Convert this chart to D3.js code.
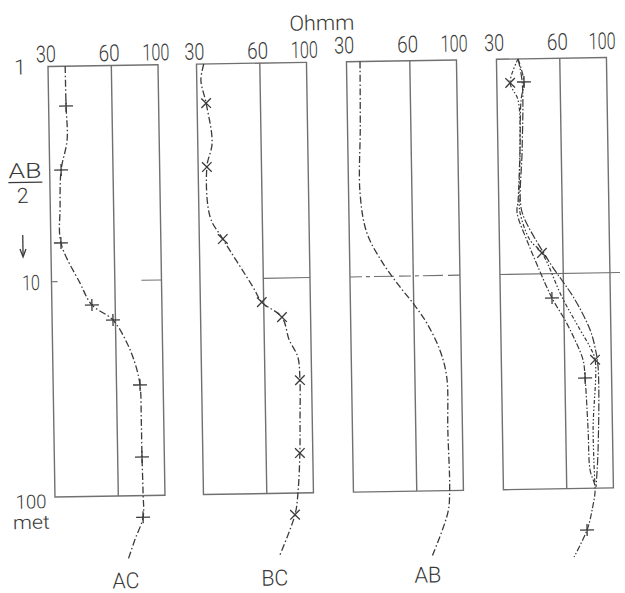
<!DOCTYPE html>
<html><head><meta charset="utf-8">
<script src="https://cdn.jsdelivr.net/npm/d3@7"></script>
<style>html,body{margin:0;padding:0;background:#fff;} svg{display:block}</style>
</head><body>
<svg id="chart" width="625" height="593"></svg>
<script>
// ---------- data ----------
const depthTicks = [1, 10, 100];
const depthTickLabels = ["1", "10", "100"];
const rhoTicks = [30, 60, 100];
const rhoTickLabels = ["30", "60", "100"];
const unitLabel = "Ohmm";
const depthUnit = "met";
const curveLabels = ["AC", "BC", "AB"];

// Panel 1 : AC
const acAB2 = [1.0, 1.53, 2.2, 3.03, 4.5, 6.61, 10.2, 12.9, 15.2, 19.5, 24.2, 30.6, 45, 66.2, 97, 126, 160, 199];
const acRho = [36.2, 36.3, 36.5, 34.0, 33.4, 33.5, 41.0, 46.5, 58.4, 67.8, 73.7, 77.6, 78.2, 78.3, 78.7, 78.4, 71.4, 65.9];
const acMarkAB2 = [1.53, 3.03, 6.61, 12.9, 15.2, 30.6, 66.2, 126];
const acMarkRho = [36.3, 34.0, 33.5, 46.5, 58.4, 77.6, 78.3, 78.4];

// Panel 2 : BC
const bcAB2 = [1.0, 1.19, 1.52, 2.33, 3.01, 5.14, 6.52, 10.95, 12.9, 15.2, 19.4, 23.3, 29.9, 45, 65.2, 100, 126, 194];
const bcRho = [32.5, 31.4, 33.1, 35.1, 33.0, 33.9, 38.8, 53.5, 58.8, 73.1, 78.8, 86.3, 88.0, 87.5, 86.8, 84.4, 81.4, 68.4];
const bcMarkAB2 = [1.52, 3.01, 6.52, 12.9, 15.2, 29.9, 65.2, 126];
const bcMarkRho = [33.1, 33.0, 38.8, 58.8, 73.1, 88.0, 86.8, 81.4];

// Panel 3 : AB
const abAB2 = [1.0, 2.0, 4.08, 6.27, 8.67, 11.2, 13.7, 16.6, 22.2, 29.7, 52.3, 99.5, 126, 203];
const abRho = [34.8, 34.5, 34.0, 36.4, 43.1, 51.7, 60.6, 69.0, 79.2, 85.0, 85.2, 86.0, 84.1, 69.9];

// Panel 4 : combined curves
const p4aAB2 = [1.0, 1.28, 1.55, 2.65, 4.52, 5.19, 7.17, 9.3, 12.98, 16.5, 20.4, 25.3, 30.7, 53.6, 82.2, 98.7, 126, 156, 208];
const p4aRho = [38.0, 40.4, 39.0, 38.2, 37.1, 36.6, 41.0, 45.6, 52.8, 60.7, 67.4, 73.4, 74.8, 76.6, 77.7, 81.8, 78.9, 74.4, 64.2];
const p4aMarkAB2 = [1.28, 12.98, 30.7, 156];
const p4aMarkRho = [40.4, 52.8, 74.8, 74.4];

const p4bAB2 = [1.0, 1.29, 1.55, 2.65, 4.52, 5.19, 6.95, 8.0, 12.9, 18.3, 22.1, 25.3, 53.6, 98.7];
const p4bRho = [38.0, 34.7, 37.7, 38.2, 37.5, 37.8, 41.9, 47.7, 59.0, 71.4, 79.4, 83.7, 80.9, 81.8];
const p4bMarkAB2 = [1.29, 8.0, 25.3];
const p4bMarkRho = [34.7, 47.7, 83.7];

const p4cAB2 = [1.0, 1.28, 2.65, 4.52, 5.31, 8.63, 13.3, 18.4, 22.1, 27.4, 66.5, 98.7];
const p4cRho = [38.0, 39.6, 39.1, 38.0, 39.0, 50.9, 68.0, 79.7, 83.8, 86.4, 85.1, 82.7];

// ---------- layout ----------
const panelLeft = [51.5, 200, 350, 500];
const panelW = 110;
const topY = 62, bottomY = 492.5;
const ink = "#3a3a3a", frame = "#707070";
const font = "Roboto, 'Liberation Sans', sans-serif";

const svg = d3.select("#chart");
svg.append("rect").attr("width", 625).attr("height", 593).attr("fill", "#fff");
const g = svg.append("g").attr("transform", "rotate(-0.93 330 280)");

const y = d3.scaleLog().domain([1, 100]).range([topY, bottomY]);
const xs = panelLeft.map(L => d3.scaleLog().domain([30, 100]).range([L, L + panelW]));

const zip = (a, b) => a.map((d, i) => ({ d: d, r: b[i] }));

function text(sel, str, x, yy, size, len, anchor) {
  const t = sel.append("text").attr("x", x).attr("y", yy).text(str)
    .attr("font-family", font).attr("font-size", size).attr("font-weight", 300)
    .attr("fill", ink).attr("text-anchor", anchor || "middle");
  if (len) t.attr("textLength", len).attr("lengthAdjust", "spacingAndGlyphs");
  return t;
}

const tickLen = { "30": 20, "60": 21, "100": 27 };
const labelBase = [57.5, 57.5, 53.5, 53.5];
const midDash = ["6,84,22", "0,63,60", "12,4,4,4,20,5", null];

xs.forEach((x, i) => {
  const p = g.append("g");
  const L = x(30), R = x(100);
  p.append("path")
    .attr("d", `M${L},${y(1)}H${R}V${y(100)}H${L}Z`)
    .attr("fill", "none").attr("stroke", frame).attr("stroke-width", 1.4);
  p.append("line").attr("x1", x(60)).attr("x2", x(60)).attr("y1", y(1)).attr("y2", y(100))
    .attr("stroke", frame).attr("stroke-width", 1.4);
  const hl = p.append("line").attr("x1", L).attr("x2", i === 3 ? R + 10 : R)
    .attr("y1", y(10)).attr("y2", y(10))
    .attr("stroke", frame).attr("stroke-width", 1.1);
  if (midDash[i]) hl.attr("stroke-dasharray", midDash[i]);
  rhoTicks.forEach((v, k) => {
    const shift = (i === 3 && k === 2) ? -4 : -2;
    text(p, rhoTickLabels[k], x(v) + shift, labelBase[i], 23, tickLen[rhoTickLabels[k]]);
  });
});

// ---------- curves ----------
const line = x => d3.line().x(d => x(d.r)).y(d => y(d.d)).curve(d3.curveCatmullRom.alpha(0.5));

function drawCurve(x, ab2, rho, dash, w) {
  g.append("path").datum(zip(ab2, rho)).attr("d", line(x))
    .attr("fill", "none").attr("stroke", ink).attr("stroke-width", w || 1.3)
    .attr("stroke-dasharray", dash);
}
function drawMarks(x, ab2, rho, kind, size) {
  const s = size || 6;
  zip(ab2, rho).forEach(p => {
    const cx = x(p.r), cy = y(p.d);
    const d = kind === "+"
      ? `M${cx - s - 1},${cy}H${cx + s + 1}M${cx},${cy - s}V${cy + s}`
      : `M${cx - s * 0.8},${cy - s * 0.8}L${cx + s * 0.8},${cy + s * 0.8}M${cx - s * 0.8},${cy + s * 0.8}L${cx + s * 0.8},${cy - s * 0.8}`;
    g.append("path").attr("d", d).attr("stroke", ink).attr("stroke-width", 1.3).attr("fill", "none");
  });
}

drawCurve(xs[0], acAB2, acRho, "7,2.5,1.5,2.5");
drawMarks(xs[0], acMarkAB2, acMarkRho, "+", 6);
drawCurve(xs[1], bcAB2, bcRho, "7,2.5,1.5,2.5");
drawMarks(xs[1], bcMarkAB2, bcMarkRho, "x", 6);
drawCurve(xs[2], abAB2, abRho, "7,2.5,1.5,2.5");

drawCurve(xs[3], p4aAB2, p4aRho, "6,2,1.5,2", 1.2);
drawCurve(xs[3], p4bAB2, p4bRho, "4,2,1.5,2,1.5,2", 1.2);
drawCurve(xs[3], p4cAB2, p4cRho, "8,2,1.5,2", 1.2);
drawMarks(xs[3], p4aMarkAB2, p4aMarkRho, "+", 6);
drawMarks(xs[3], p4bMarkAB2, p4bMarkRho, "x", 6);

// ---------- axis texts ----------
text(g, unitLabel, 326, 30, 21, 65);
text(g, depthTickLabels[0], 23.5, y(depthTicks[0]) + 7.5, 21);
text(g, depthTickLabels[1], 31, y(depthTicks[1]) + 8, 21, 18);
text(g, depthTickLabels[2], 27.5, y(depthTicks[2]) + 11, 19, 31);
text(g, depthUnit, 27.5, y(depthTicks[2]) + 31.5, 19, 37);
text(g, "AB", 26.8, 173, 21, 33);
g.append("line").attr("x1", 10).attr("x2", 44).attr("y1", 177.5).attr("y2", 177.5)
  .attr("stroke", ink).attr("stroke-width", 1.3);
text(g, "2", 24, 198, 21);
g.append("line").attr("x1", 23.5).attr("x2", 23.5).attr("y1", 230).attr("y2", 250)
  .attr("stroke", ink).attr("stroke-width", 1.3);
g.append("path").attr("d", "M20.5,244L23.5,252L26.5,244").attr("fill", "none")
  .attr("stroke", ink).attr("stroke-width", 1.3);

const labelPos = [[121, 585], [270, 584.5], [423, 584]];
curveLabels.forEach((s, i) => text(g, s, labelPos[i][0], labelPos[i][1], 22, 27));
</script>
</body></html>
